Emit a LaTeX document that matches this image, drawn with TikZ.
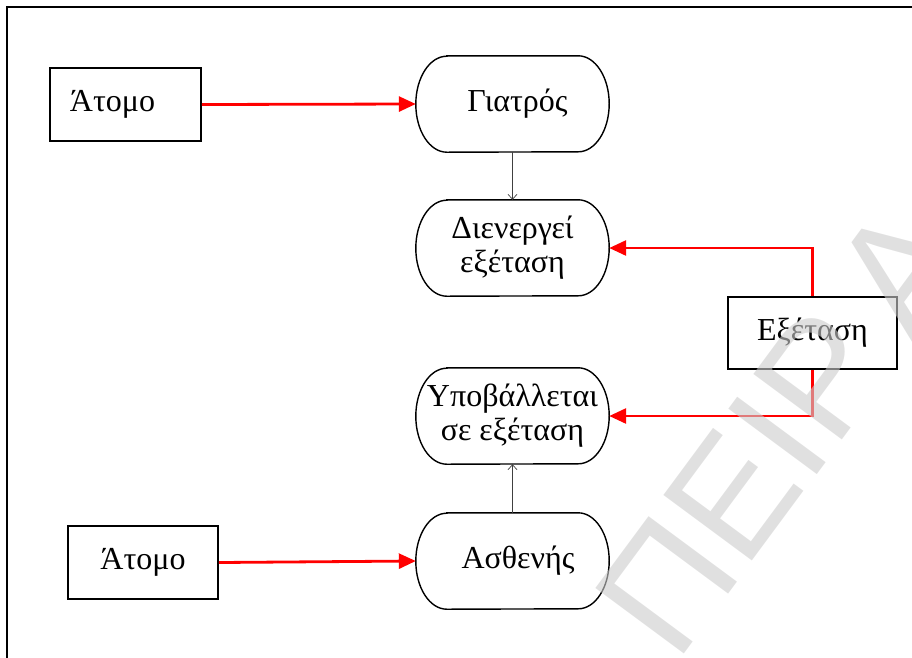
\documentclass[tikz,border=0pt]{standalone}
\usepackage{fontspec}
\setmainfont{Liberation Serif}
\newfontfamily\wmfont{Liberation Sans}
\usetikzlibrary{arrows.meta}

% terminator outline: flat top and bottom, elliptical ends
\newcommand\termline[1]{%
  \draw[termedge] ([xshift=31pt]#1.north west) -- ([xshift=-31pt]#1.north east)
    arc[start angle=90,end angle=-90,x radius=31pt,y radius=48pt]
    -- ([xshift=31pt]#1.south west)
    arc[start angle=270,end angle=90,x radius=31pt,y radius=48pt] -- cycle;}

\begin{document}
\begin{tikzpicture}[x=1pt,y=-1pt,
  every node/.style={font=\fontsize{32}{34}\selectfont},
  framebox/.style={draw=black,line width=1.6pt,inner sep=0pt,align=center},
  term/.style={inner sep=0pt,minimum width=193pt,minimum height=96pt,align=center},
  termedge/.style={draw=black,line width=1.4pt},
  redarrow/.style={draw=red,line width=2.8pt,-{Triangle[length=17pt,width=15pt]}},
  thinarrow/.style={draw=black!75,line width=0.7pt,-{Straight Barb[length=5pt,width=9pt]}}]

\useasboundingbox (0,0) rectangle (912,657);
\clip (0,0) rectangle (912,657);

% outer frame
\draw[line width=1.4pt] (7,700) -- (7,7) -- (960,7);

% boxes
\node[framebox,minimum width=151pt,minimum height=73pt] (atomA) at (125.5,104.5) {Άτομο\hspace{26pt}};
\node[framebox,minimum width=150pt,minimum height=73pt] (atomB) at (143,562.5) {Άτομο};
\node[framebox,minimum width=169pt,minimum height=72pt] (exet) at (812.5,333) {Εξέταση};

% terminators
\node[term] (giat) at (512.5,104) {\hspace{10pt}Γιατρός};
\node[term] (dien) at (512.5,248) {Διενεργεί\\εξέταση};
\node[term] (ypob) at (512.5,416) {Υποβάλλεται\\σε εξέταση};
\node[term] (asth) at (512.5,561) {\hspace{11pt}Ασθενής};
\termline{giat}
\termline{dien}
\termline{ypob}
\termline{asth}

% connectors
\draw[redarrow] (atomA.east) -- (giat.west);
\draw[redarrow] (atomB.east) -- (asth.west);
\draw[redarrow] (exet.north) |- (dien.east);
\draw[redarrow] (exet.south) |- (ypob.east);
\draw[thinarrow] (giat.south) -- (dien.north);
\draw[thinarrow] (asth.north) -- (ypob.south);

% watermark
\node[rotate=53.5,anchor=base west,inner sep=0pt,text=black!20,opacity=0.6,
      font=\wmfont\fontsize{160}{170}\selectfont] (wm) at (676,665) {ΠΕΙΡ\kern25pt Α};
\end{tikzpicture}
\end{document}
